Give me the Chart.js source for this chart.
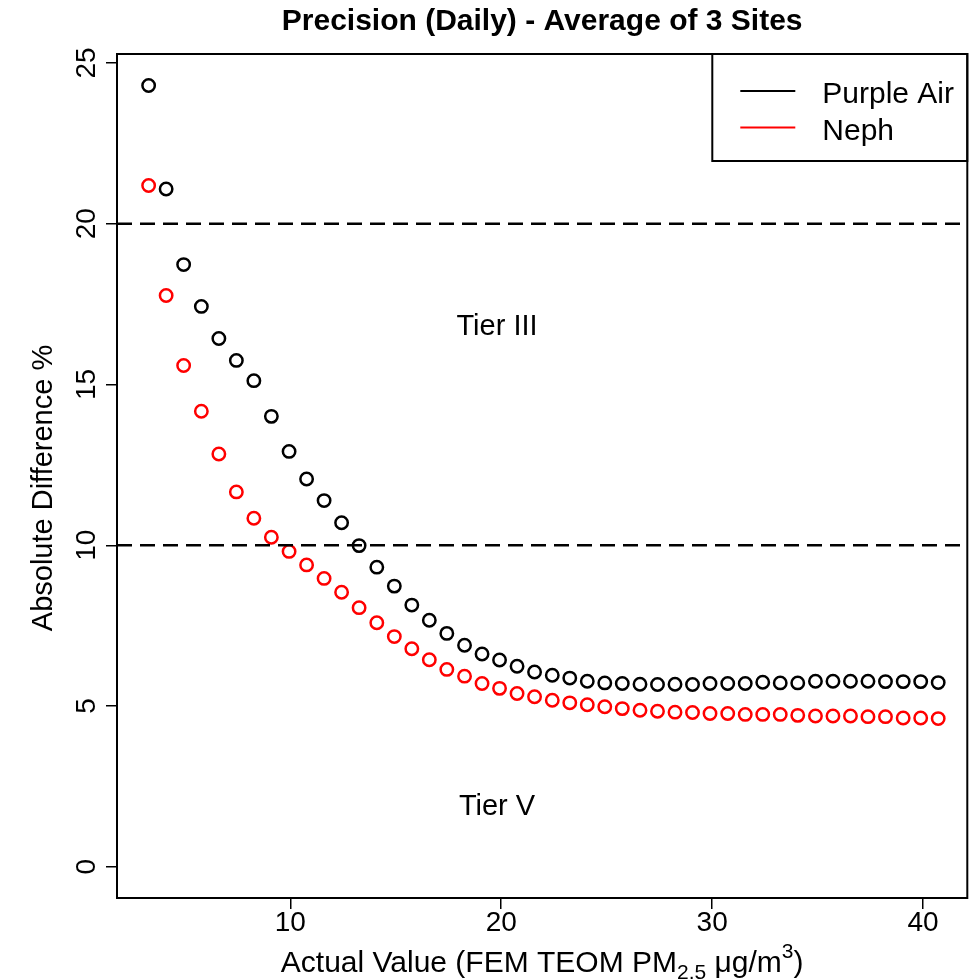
<!DOCTYPE html>
<html>
<head>
<meta charset="utf-8">
<script src="https://cdn.jsdelivr.net/npm/chart.js@4.4.1/dist/chart.umd.min.js"></script>
<style>
  html, body { margin: 0; padding: 0; background: #fff; }
  canvas { display: block; }
</style>
</head>
<body>
<canvas id="chart" width="976" height="980"></canvas>
<script>
// Precision (Daily) - Average of 3 Sites
// values

const actualValue = [
  3.28, 4.11, 4.94, 5.78, 6.61, 7.44, 8.27, 9.10, 9.94, 10.77,
  11.60, 12.43, 13.26, 14.10, 14.93, 15.76, 16.59, 17.42, 18.26, 19.09,
  19.92, 20.75, 21.58, 22.42, 23.25, 24.08, 24.91, 25.74, 26.58, 27.41,
  28.24, 29.07, 29.90, 30.74, 31.57, 32.40, 33.23, 34.06, 34.90, 35.73,
  36.56, 37.39, 38.22, 39.06, 39.89, 40.72
];

const purpleAir = [
  24.30, 21.08, 18.73, 17.43, 16.43, 15.75, 15.12, 14.01, 12.92, 12.06,
  11.39, 10.70, 9.99, 9.32, 8.73, 8.14, 7.67, 7.26, 6.89, 6.62,
  6.43, 6.24, 6.06, 5.96, 5.87, 5.77, 5.72, 5.70, 5.68, 5.67,
  5.68, 5.67, 5.70, 5.70, 5.70, 5.74, 5.72, 5.72, 5.77, 5.77,
  5.77, 5.77, 5.76, 5.76, 5.76, 5.73
];

const neph = [
  21.19, 17.77, 15.59, 14.17, 12.84, 11.66, 10.84, 10.25, 9.81, 9.39,
  8.97, 8.54, 8.06, 7.59, 7.16, 6.78, 6.44, 6.14, 5.93, 5.70,
  5.55, 5.39, 5.29, 5.18, 5.10, 5.04, 4.98, 4.92, 4.87, 4.84,
  4.81, 4.80, 4.77, 4.77, 4.74, 4.74, 4.74, 4.71, 4.69, 4.69,
  4.69, 4.67, 4.67, 4.63, 4.63, 4.61
];

const seriesNames = ["Purple Air", "Neph"];
const xTicks = [10, 20, 30, 40];
const yTicks = [0, 5, 10, 15, 20, 25];
const xRange = [1.78, 42.1];
const yRange = [-0.97, 25.28];

const tierLines = [10, 20];
const tierLabels = ["Tier III", "Tier V"];
const tierLabelX = [19.8, 19.8];
const tierLabelY = [16.8, 1.85];

const FONT = '"Liberation Sans", Arial, sans-serif';

const toPts = (ys) => ys.map((y, i) => ({ x: actualValue[i], y }));

const dashLine = (yv) => ({
  label: "tier" + yv,
  data: [{ x: xRange[0], y: yv }, { x: xRange[1], y: yv }],
  showLine: true,
  borderColor: "#000",
  borderWidth: 2.5,
  borderDash: [15, 8],
  pointRadius: 0,
  pointHoverRadius: 0,
  isRef: true
});

const circleSet = (label, ys, color) => ({
  label,
  data: toPts(ys),
  borderColor: color,
  backgroundColor: "rgba(0,0,0,0)",
  pointStyle: "circle",
  pointRadius: 6.2,
  pointBorderWidth: 2.5,
  pointHoverRadius: 6.2,
  showLine: false
});

// R-style extras: frame, rotated y labels, axis titles, legend box, tier text
const rPlot = {
  id: "rPlot",
  afterDraw(chart){
    const { ctx, chartArea: a, scales: { x, y } } = chart;
    ctx.save();
    ctx.fillStyle = "#000";
    ctx.strokeStyle = "#000";

    // tier text
    ctx.font = "29px " + FONT;
    ctx.textAlign = "center";
    ctx.textBaseline = "middle";
    tierLabels.forEach((t, i) => {
      ctx.fillText(t, x.getPixelForValue(tierLabelX[i]), y.getPixelForValue(tierLabelY[i]));
    });

    // frame
    ctx.lineWidth = 2;
    ctx.strokeRect(a.left, a.top, a.right - a.left, a.bottom - a.top);

    // y tick labels, rotated like R's las=0
    ctx.font = "28px " + FONT;
    ctx.textAlign = "center";
    ctx.textBaseline = "alphabetic";
    y.ticks.forEach(t => {
      ctx.save();
      ctx.translate(a.left - 22, y.getPixelForValue(t.value));
      ctx.rotate(-Math.PI / 2);
      ctx.fillText(String(t.value), 0, 0);
      ctx.restore();
    });

    // y title
    ctx.font = "29px " + FONT;
    ctx.save();
    ctx.translate(52, (a.top + a.bottom) / 2 + 12);
    ctx.rotate(-Math.PI / 2);
    ctx.fillText("Absolute Difference %", 0, 0);
    ctx.restore();

    // x title with sub/superscript
    const big = "30px " + FONT, small = "21px " + FONT;
    const parts = [
      { t: "Actual Value (FEM TEOM PM", f: big, dy: 0 },
      { t: "2.5", f: small, dy: 7 },
      { t: " \u03bcg/m", f: big, dy: 0 },
      { t: "3", f: small, dy: -14 },
      { t: ")", f: big, dy: 0 }
    ];
    let total = 0;
    parts.forEach(p => { ctx.font = p.f; p.w = ctx.measureText(p.t).width; total += p.w; });
    let cx = (a.left + a.right) / 2 - total / 2;
    const base = 972;
    ctx.textAlign = "left";
    parts.forEach(p => {
      ctx.font = p.f;
      ctx.fillText(p.t, cx, base + p.dy);
      cx += p.w;
    });

    // legend box
    const lw = 255, lh = 107;
    const lx = a.right - lw, ly = a.top;
    ctx.lineWidth = 2;
    ctx.strokeRect(lx, ly, lw, lh);
    ctx.font = "30px " + FONT;
    ctx.textBaseline = "alphabetic";
    const sets = chart.data.datasets.filter(d => !d.isRef);
    sets.forEach((d, i) => {
      const yy = ly + 37 + i * 36.5;
      ctx.strokeStyle = d.borderColor;
      ctx.lineWidth = 2.2;
      ctx.beginPath();
      ctx.moveTo(lx + 28, yy);
      ctx.lineTo(lx + 83, yy);
      ctx.stroke();
      ctx.fillStyle = "#000";
      ctx.fillText(d.label, lx + 110, yy + 12);
    });

    ctx.restore();
  }
};

new Chart(document.getElementById("chart"), {
  type: "scatter",
  data: {
    datasets: [
      dashLine(tierLines[1]),
      dashLine(tierLines[0]),
      circleSet(seriesNames[0], purpleAir, "#000000"),
      circleSet(seriesNames[1], neph, "#ff0000")
    ]
  },
  options: {
    responsive: false,
    animation: false,
    devicePixelRatio: 1,
    layout: { padding: { left: 0, right: 7, top: 0, bottom: 0 } },
    plugins: {
      legend: { display: false },
      tooltip: { enabled: false },
      title: {
        display: true,
        text: "Precision (Daily) - Average of 3 Sites",
        color: "#000",
        fullSize: false,
        font: { family: FONT, size: 30, weight: "bold" },
        padding: { top: 4, bottom: 14 }
      }
    },
    scales: {
      x: {
        type: "linear",
        position: "bottom",
        min: xRange[0],
        max: xRange[1],
        afterBuildTicks: s => { s.ticks = xTicks.map(v => ({ value: v })); },
        afterFit: s => { s.height = 82; },
        border: { display: false },
        grid: { drawOnChartArea: false, drawTicks: true, tickLength: 11, color: "#000", lineWidth: 1.5 },
        ticks: { color: "#000", font: { family: FONT, size: 28 }, padding: -3, maxRotation: 0 }
      },
      y: {
        type: "linear",
        min: yRange[0],
        max: yRange[1],
        afterBuildTicks: s => { s.ticks = yTicks.map(v => ({ value: v })); },
        afterFit: s => { s.width = 117; },
        border: { display: false },
        grid: { drawOnChartArea: false, drawTicks: true, tickLength: 11, color: "#000", lineWidth: 1.5 },
        ticks: { display: false }
      }
    }
  },
  plugins: [rPlot]
});
</script>
</body>
</html>
